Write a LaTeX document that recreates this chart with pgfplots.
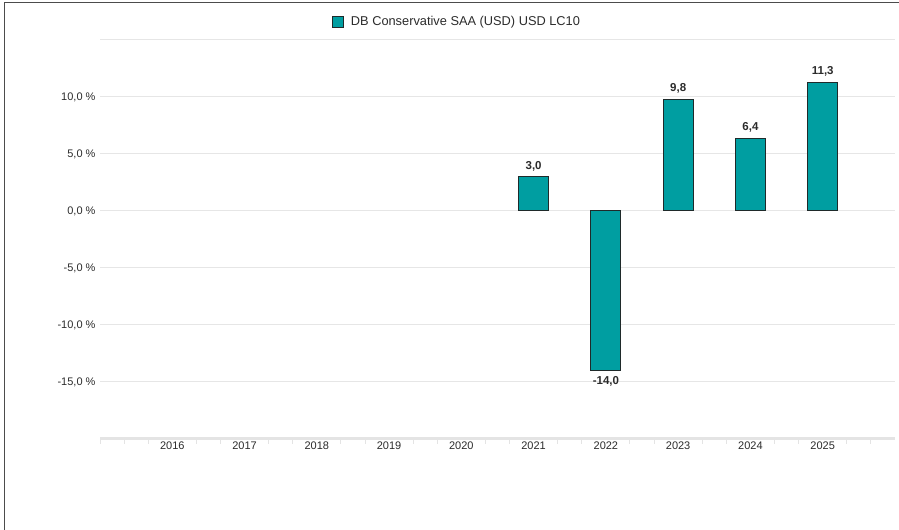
\documentclass[border=0pt]{standalone}
\usepackage{fontspec}
\setmainfont{Liberation Sans}
\usepackage{pgfplots}
\pgfplotsset{compat=1.18}

\definecolor{barteal}{HTML}{009EA1}
\definecolor{baredge}{HTML}{1F2A2A}
\definecolor{gridgray}{HTML}{E6E6E6}
\definecolor{axisgray}{HTML}{E4E4E4}
\definecolor{txt}{HTML}{2B2B2B}

\pgfplotsset{
    sqlegend/.style={
        legend image code/.code={
            \draw[##1, line width=1bp] (0bp,-5.5bp) rectangle (11bp,5.5bp);
            \path (16bp,0bp);
        }
    }
}

\begin{document}
\begin{tikzpicture}
    \useasboundingbox (0,0) rectangle (899bp,530bp);
    % frame at left and top
    \draw[line width=1.6bp, color=black!70] (4.5bp,0) -- (4.5bp,527.6bp) -- (899bp,527.6bp);

    \begin{axis}[
        at={(100bp,91bp)}, anchor=south west,
        scale only axis,
        width=795bp, height=399bp,
        xmin=2015, xmax=2026,
        ymin=-20, ymax=15,
        clip=false,
        axis x line*=bottom,
        axis y line*=left,
        x axis line style={line width=3bp, color=axisgray, -},
        y axis line style={draw=none},
        xtick={2016,...,2025},
        xticklabels={2016,2017,2018,2019,2020,2021,2022,2023,2024,2025},
        major tick length=0pt,
        minor xtick={2015,2015.333,2015.667,2016.333,2016.667,2017.333,2017.667,
                     2018.333,2018.667,2019.333,2019.667,2020.333,2020.667,
                     2021.333,2021.667,2022.333,2022.667,2023.333,2023.667,
                     2024.333,2024.667,2025.333,2025.667},
        minor tick length=5bp,
        xtick align=outside,
        minor x tick style={line width=1bp, color=axisgray},
        xticklabel style={font=\fontsize{11bp}{13bp}\selectfont, text=txt, yshift=1bp},
        extra y ticks={-15,-10,-5,0,5,10,15},
        extra y tick labels={},
        extra y tick style={grid=major, major grid style={line width=1bp, color=gridgray}},
        ytick={-15,-10,-5,0,5,10},
        yticklabels={{-15,0 \%},{-10,0 \%},{-5,0 \%},{0,0 \%},{5,0 \%},{10,0 \%}},
        yticklabel style={font=\fontsize{11bp}{13bp}\selectfont, text=txt, xshift=-1bp},
        legend style={at={(axis description cs:0.449,1.045)}, anchor=center,
            draw=none, fill=none, font=\fontsize{12.8bp}{14bp}\selectfont,
            text=txt, inner sep=0pt},
        ybar,
        bar width=30bp,
        /pgf/number format/assume math mode=true,
        nodes near coords={\pgfmathprintnumber[fixed,fixed zerofill,precision=1,use comma]{\pgfplotspointmeta}},
        nodes near coords align=vertical,
        every node near coord/.append style={font=\bfseries\fontsize{11.5bp}{13bp}\selectfont, text=txt, inner sep=5.5bp},
    ]
    \addplot[fill=barteal, draw=baredge, line width=1bp, sqlegend] coordinates {
        (2021, 3.0)
        (2022, -14.0)
        (2023, 9.8)
        (2024, 6.4)
        (2025, 11.3)
    };
    \addlegendentry{DB Conservative SAA (USD) USD LC10}
    \end{axis}
\end{tikzpicture}
\end{document}
